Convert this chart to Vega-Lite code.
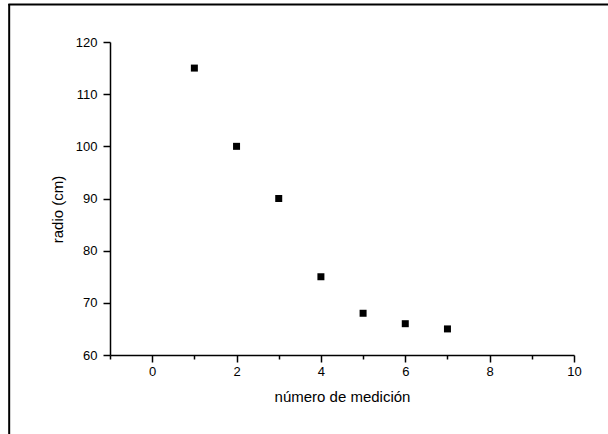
{
  "$schema": "https://vega.github.io/schema/vega-lite/v6.json",
  "width": 464,
  "height": 313,
  "autosize": {"type": "none"},
  "padding": {"left": 110, "top": 42, "right": 34, "bottom": 79},
  "background": "white",
  "config": {"view": {"stroke": null}, "font": "Liberation Sans"},
  "layer": [
    {
      "data": {"values": [
        {"medicion": 1, "radio": 115},
        {"medicion": 2, "radio": 100},
        {"medicion": 3, "radio": 90},
        {"medicion": 4, "radio": 75},
        {"medicion": 5, "radio": 68},
        {"medicion": 6, "radio": 66},
        {"medicion": 7, "radio": 65}
      ]},
      "mark": {"type": "square", "filled": true, "color": "black", "size": 49, "opacity": 1},
      "encoding": {
        "x": {
          "field": "medicion", "type": "quantitative",
          "scale": {"domain": [-1, 10], "nice": false, "zero": false},
          "axis": {
            "values": [-1, 0, 1, 2, 3, 4, 5, 6, 7, 8, 9, 10],
            "labelExpr": "datum.value % 2 === 0 ? datum.label : ''",
            "tickSize": {"condition": {"test": "datum.value % 2 === 0", "value": 7}, "value": 4},
            "grid": false,
            "domainColor": "black", "tickColor": "black", "domainWidth": 1.5, "tickWidth": 1.5,
            "labelColor": "black", "labelFontSize": 13, "labelPadding": 3,
            "labelOverlap": false, "labelFlush": false,
            "title": "número de medición", "titleFontSize": 15, "titleFontWeight": "normal",
            "titleColor": "black", "titlePadding": 11
          }
        },
        "y": {
          "field": "radio", "type": "quantitative",
          "scale": {"domain": [60, 120], "nice": false, "zero": false},
          "axis": {
            "values": [60, 65, 70, 75, 80, 85, 90, 95, 100, 105, 110, 115, 120],
            "labelExpr": "datum.value % 10 === 0 ? datum.label : ''",
            "tickSize": {"condition": {"test": "datum.value % 10 === 0", "value": 7}, "value": 4},
            "grid": false,
            "domainColor": "black", "tickColor": "black", "domainWidth": 1.5, "tickWidth": 1.5,
            "labelColor": "black", "labelFontSize": 13, "labelPadding": 6,
            "labelOverlap": false, "labelFlush": false,
            "title": "radio (cm)", "titleFontSize": 15, "titleFontWeight": "normal",
            "titleColor": "black", "titlePadding": 10, "titleY": 167
          }
        }
      }
    },
    {
      "data": {"values": [{"medicion": -3.39, "radio": 40, "radio2": 127.3}]},
      "mark": {"type": "rule", "color": "black", "strokeWidth": 2},
      "encoding": {
        "x": {"field": "medicion", "type": "quantitative"},
        "y": {"field": "radio", "type": "quantitative"},
        "y2": {"field": "radio2"}
      }
    },
    {
      "data": {"values": [{"medicion": -3.41, "medicion2": 12, "radio": 127.2}]},
      "mark": {"type": "rule", "color": "black", "strokeWidth": 2},
      "encoding": {
        "x": {"field": "medicion", "type": "quantitative"},
        "x2": {"field": "medicion2"},
        "y": {"field": "radio", "type": "quantitative"}
      }
    }
  ]
}
